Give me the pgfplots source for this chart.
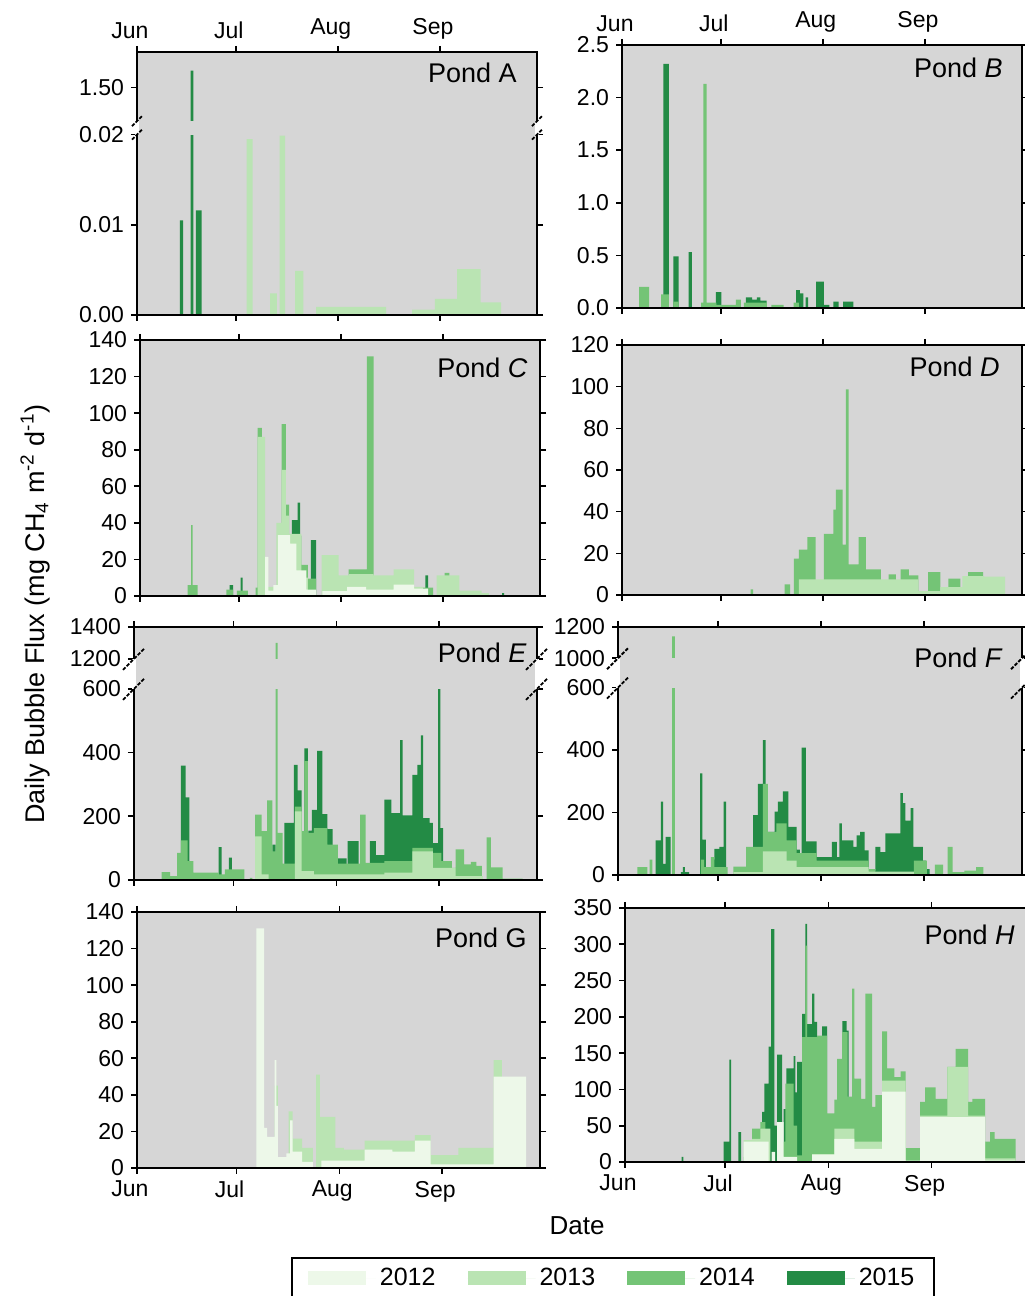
\documentclass[border=0pt]{standalone}
\usepackage{pgfplots}
\pgfplotsset{compat=1.18}
\usepackage{fontspec}
\setmainfont{Liberation Sans}

\definecolor{c2012}{HTML}{EDF8E9}
\definecolor{c2013}{HTML}{BAE4B3}
\definecolor{c2014}{HTML}{74C476}
\definecolor{c2015}{HTML}{238B45}
\definecolor{panelbg}{HTML}{D6D6D6}

\pgfplotsset{
  pond/.style={
    scale only axis,
    anchor=south west,
    xmin=0, xmax=121.5,
    ymin=0,
    axis background/.style={fill=panelbg},
    axis line style={line width=1pt},
    tick align=outside,
    xtick pos=both, ytick pos=both,
    yticklabel pos=left,
    xtick={0,30,61,92},
    xticklabels={Jun,Jul,Aug,Sep},
    xticklabel style={xshift=-3.5pt},
    major tick length=3pt,
    every tick/.style={black, line width=0.8pt},
    tick label style={font=\fontsize{11.5}{13}\selectfont},
    /pgf/number format/assume math mode=true,
    axis on top,
  },
  nox/.style={xticklabels={}},
  yr/.style={const plot, draw=none, fill=#1, forget plot},
}
\tikzset{
  brk/.style={black, line width=0.9pt, dash pattern=on 1.8pt off 0.8pt},
  pondlbl/.style={anchor=north east, inner sep=0pt, font=\fontsize{13.5}{15}\selectfont},
}
% axis break: the spine is cut between two levels and a slash marks each cut
\newcommand{\axbreak}[4]{%
  \fill[white] ([xshift=-1.2pt]#1) rectangle ([xshift=1.2pt]#2);
  \draw[brk] ([shift={(-#3,-#4)}]#1) -- ([shift={(#3,#4)}]#1);
  \draw[brk] ([shift={(-#3,-#4)}]#2) -- ([shift={(#3,#4)}]#2);}

\begin{document}
\begin{tikzpicture}
\useasboundingbox (0,0) rectangle (512pt,648pt);

% ---------------- Pond A ----------------
\begin{axis}[pond, at={(68.5pt,490.5pt)}, width=200pt, height=131.5pt,
  xticklabel pos=right,
  ymax=1.605, ytick={0,0.01,0.02,1.5}, yticklabels={0.00,0.01,0.02,1.50},
  y coord trafo/.code={\pgfmathparse{(#1<=0.02)?(1000*#1):((#1<1.4)?(20+(#1-0.02)*1.087):(21.5+(#1-1.4)*37.4))}}]
\addplot[yr=c2015] table {
x y
13.0 0.0105
14.0 0
16.3 1.55
17.1 0
17.9 0.0116
19.6 0
} \closedcycle;
\addplot[yr=c2013] table {
x y
33.3 0.0195
35.1 0
40.4 0.0024
42.5 0
43.3 0.0199
45.0 0
48.0 0.0049
50.5 0
54.4 0.0009
75.7 0
83.6 0.0006
90.5 0.0018
97.2 0.0051
104.4 0.0014
110.6 0
} \closedcycle;
\fill[panelbg] (axis cs:0,0.02) rectangle (axis cs:121.5,1.4);
\coordinate (AL0) at (axis cs:0,0.02);
\coordinate (AL1) at (axis cs:0,1.4);
\coordinate (AR0) at (axis cs:121.5,0.02);
\coordinate (AR1) at (axis cs:121.5,1.4);
\node[pondlbl, xshift=-10pt, yshift=-5.5pt] at (rel axis cs:1,1) {Pond A};
\end{axis}
\axbreak{AL0}{AL1}{2.5pt}{2.5pt}
\axbreak{AR0}{AR1}{2.5pt}{2.5pt}

% ---------------- Pond B ----------------
\begin{axis}[pond, at={(311pt,494pt)}, width=200pt, height=131.5pt,
  xticklabel pos=right,
  ymax=2.5, ytick={0,0.5,1,1.5,2,2.5}, yticklabels={0.0,0.5,1.0,1.5,2.0,2.5}]
\addplot[yr=c2015] table {
x y
12.6 2.32
14.2 0
15.6 0.49
17.2 0
20.2 0.53
21.2 0
28.5 0.15
30.2 0
37.6 0.10
39.5 0.08
41.0 0.10
42.0 0.07
43.9 0
52.9 0.17
54.0 0.14
55.1 0
55.8 0.10
56.5 0
59.0 0.25
61.3 0.03
63.0 0
64.2 0.06
65.8 0
67.2 0.06
70.3 0
} \closedcycle;
\addplot[yr=c2014] table {
x y
5.2 0.20
8.2 0
11.9 0.13
14.2 0
15.6 0.06
17.2 0
24.0 0.05
24.7 2.13
25.7 0.05
28.7 0.03
34.6 0.08
36.1 0
37.0 0.05
44.0 0
45.4 0.03
49.1 0
52.1 0.05
53.7 0
} \closedcycle;
\node[pondlbl, xshift=-9.5pt, yshift=-6.5pt] at (rel axis cs:1,1) {Pond \textit{B}};
\end{axis}

% ---------------- Pond C ----------------
\begin{axis}[pond, nox, at={(70pt,350pt)}, width=200pt, height=128pt,
  ymax=140, ytick={0,20,...,140}]
\addplot[yr=c2015] table {
x y
27.2 6
28.3 0
30.6 10
31.2 0
46.1 41.5
47.9 51
48.6 0
51.9 30.6
53.5 0
86.7 11.3
87.5 0
110.0 1.6
110.6 0
} \closedcycle;
\addplot[yr=c2014] table {
x y
14.5 5.9
15.5 38.8
16.0 5.9
17.5 0
26.2 3.5
28.3 0
29.4 3
32.8 0
35.1 4.6
35.7 92
37.0 0
43.0 94
44.3 50
45.3 0
47.5 33
49.0 17
51.0 9.5
53.5 0
63.4 14.5
68.9 131
71.0 0
83.3 4.6
89.0 0
92.5 12.6
94.0 0
} \closedcycle;
\addplot[yr=c2013] table {
x y
35.7 87
38.0 5
41.4 40
43.0 69
44.3 44
45.3 34
49.0 10
51.0 0
55.2 22.3
60.3 11.3
63.4 12
71.0 11.3
77.0 14.5
83.3 5
86.0 0
90.1 11.3
97.0 3
103.8 1.6
106.0 0
} \closedcycle;
\addplot[yr=c2012] table {
x y
38.0 21.4
39.0 3
40.5 6
41.9 33.3
45.6 28.7
47.5 14
50.5 3.5
53.5 0
55.4 2.7
62.9 5
68.7 3.5
77.0 6.2
83.3 4
87.5 0
} \closedcycle;
\node[pondlbl, xshift=-6pt, yshift=-9pt] at (rel axis cs:1,1) {Pond \textit{C}};
\end{axis}

% ---------------- Pond D ----------------
\begin{axis}[pond, nox, at={(311pt,350.5pt)}, width=200pt, height=125pt,
  ymax=120, ytick={0,20,...,120}]
\addplot[yr=c2014] table {
x y
39.1 2.7
39.8 0
49.4 5.1
51.1 0
52.2 17.4
53.7 21.8
56.3 27.8
58.8 0
61.3 29.3
64.2 41
65.0 50.6
67.0 24.2
68.0 98.7
68.8 14.7
71.9 27.8
74.1 12.3
78.6 0
81.0 9.9
83.2 0
84.6 12.3
87.1 9.4
90.0 1.9
93.0 11
96.7 0
99.1 7.8
102.8 0
105.1 11
109.7 0
} \closedcycle;
\addplot[yr=c2013] table {
x y
53.7 7.5
90.0 1.9
96.7 3.8
103.4 9
110.0 8.8
116.4 0
} \closedcycle;
\node[pondlbl, xshift=-11pt, yshift=-6pt] at (rel axis cs:1,1) {Pond \textit{D}};
\end{axis}

% ---------------- Pond E ----------------
\begin{axis}[pond, nox, at={(67pt,208pt)}, width=201.5pt, height=126.5pt,
  ymax=1400, ytick={0,200,400,600,1200,1400}, yticklabels={0,200,400,600,1200,1400},
  y coord trafo/.code={\pgfmathparse{(#1<=600)?(#1):((#1<1200)?(600+(#1-600)*0.15667):(694+(#1-1200)*0.5))}}]
\addplot[yr=c2015] table {
x y
14.1 359
15.6 259
16.7 59
17.7 0
25.5 103
26.4 0
28.6 70
29.5 0
41.7 111
42.7 0
45.3 179
48.2 361
49.3 281
50.5 0
51.4 413
52.4 0
52.6 155
53.6 220
55.2 405
56.8 207
58.3 160
59.9 0
61.5 68
64.1 0
64.4 122
67.7 0
71.1 122
72.9 78
75.5 252
77.6 210
80.2 439
81.0 203
83.9 330
85.4 361
86.5 454
87.2 194
89.1 179
90.1 116
91.7 602
92.4 163
93.2 0
} \closedcycle;
\addplot[yr=c2014] table {
x y
8.3 25
10.9 12
13.0 85
14.1 124
16.2 59
17.9 23
25.5 18
27.4 33
33.3 0
34.9 7
35.7 0
36.5 205
38.5 153
40.1 250
41.7 90
42.7 1300
43.3 148
44.8 51
48.5 230
50.5 153
51.4 373
52.4 148
54.2 163
58.3 111
61.5 51
68.2 205
69.8 54
75.5 59
83.9 101
90.1 85
92.7 59
95.8 38
97.0 96
99.5 49
101.6 57
103.2 44
104.9 0
106.3 134
107.6 40
111.1 4
117.2 0
} \closedcycle;
\addplot[yr=c2013] table {
x y
36.5 137
38.5 18
40.6 0
48.5 215
50.5 28
54.2 18
75.5 23
83.9 90
90.1 38
97.0 12
105.2 0
} \closedcycle;
\fill[panelbg] (axis cs:0,600) rectangle (axis cs:121.5,1200);
\coordinate (EL0) at (axis cs:0,600);
\coordinate (EL1) at (axis cs:0,1200);
\coordinate (ER0) at (axis cs:121.5,600);
\coordinate (ER1) at (axis cs:121.5,1200);
\node[pondlbl, xshift=-5pt, yshift=-8pt] at (rel axis cs:1,1) {Pond \textit{E}};
\end{axis}
\axbreak{EL0}{EL1}{5.5pt}{5.5pt}
\axbreak{ER0}{ER1}{5.5pt}{5.5pt}

% ---------------- Pond F ----------------
\begin{axis}[pond, nox, at={(309pt,210.5pt)}, width=202pt, height=124pt,
  ymax=1200, ytick={0,200,400,600,1000,1200}, yticklabels={0,200,400,600,1000,1200},
  y coord trafo/.code={\pgfmathparse{(#1<=600)?(#1):((#1<1000)?(600+(#1-600)*0.235):(694+(#1-1000)*0.5))}}]
\addplot[yr=c2015] table {
x y
11.3 111
12.9 235
13.6 36
14.3 122
15.8 0
18.9 9
19.5 25
20.1 9
21.4 0
24.7 325
25.4 113
26.4 0
28.0 49
29.0 84
30.5 90
31.8 235
32.5 0
40.6 192
42.1 292
43.6 432
44.4 208
45.1 138
47.1 203
48.1 235
49.6 268
51.2 154
53.7 81
54.7 0
55.2 408
56.5 108
59.7 57
64.3 106
65.8 57
66.6 165
67.3 111
70.8 90
71.8 127
72.8 138
74.2 79
75.4 14
77.4 90
78.9 73
80.4 133
84.9 262
85.7 230
86.4 174
88.0 214
88.8 90
91.7 46
92.7 19
93.7 0
} \closedcycle;
\addplot[yr=c2014] table {
x y
5.8 25
8.8 0
9.5 49
10.3 0
16.3 1140
17.1 0
24.9 49
25.9 25
27.9 57
29.0 25
33.0 0
34.7 27
38.5 90
43.6 292
45.1 138
47.6 165
50.7 111
53.7 70
59.7 46
75.4 19
77.4 0
89.0 46
92.9 0
95.3 33
97.8 0
99.1 90
100.6 9
104.2 14
107.7 25
109.9 0
} \closedcycle;
\addplot[yr=c2013] table {
x y
34.7 9
43.6 76
50.7 46
53.7 25
75.4 11
89.0 0
} \closedcycle;
\fill[panelbg] (axis cs:0,600) rectangle (axis cs:121.5,1000);
\coordinate (FL0) at (axis cs:0,600);
\coordinate (FL1) at (axis cs:0,1000);
\coordinate (FR0) at (axis cs:121.5,600);
\coordinate (FR1) at (axis cs:121.5,1000);
\node[pondlbl, xshift=-9.5pt, yshift=-10.5pt] at (rel axis cs:1,1) {Pond \textit{F}};
\end{axis}
\axbreak{FL0}{FL1}{5.5pt}{5.5pt}
\axbreak{FR0}{FR1}{5.5pt}{5.5pt}

% ---------------- Pond G ----------------
\begin{axis}[pond, at={(68.5pt,64pt)}, width=201.5pt, height=128pt,
  ymax=140, ytick={0,20,...,140},
  legend style={at={(axis description cs:0.382,-0.348)}, anchor=north west,
    legend columns=4, draw=black, line width=1pt, fill=white,
    font=\fontsize{12.5}{14}\selectfont, inner xsep=8pt, inner ysep=3pt,
    /tikz/every even column/.append style={column sep=14pt}},
  legend image code/.code={\fill[#1] (0pt,-3.5pt) rectangle (29pt,3.5pt); \path (0pt,0pt) -- (34pt,0pt);}]
\addplot[yr=c2013] table {
x y
41.5 45
42.5 0
45.7 31
46.9 16
49.8 11
53.0 0
54.0 51
55.1 28
59.8 11
62.4 10
68.6 15
83.8 18
88.5 7
96.9 11
107.5 59
110.0 0
} \closedcycle;
\addplot[yr=c2012] table {
x y
36.0 131
38.3 22
39.2 17
41.5 59
42.0 34
42.5 6
45.0 8
46.2 26
46.9 9
49.8 3.3
53.0 0
55.6 4
68.6 10
77.0 9
83.8 15
88.5 2
107.5 50
117.3 0
} \closedcycle;
\node[pondlbl, xshift=-6.5pt, yshift=-8pt] at (rel axis cs:1,1) {Pond G};
\addlegendimage{fill=c2012, draw=none}
\addlegendentry{2012}
\addlegendimage{fill=c2013, draw=none}
\addlegendentry{2013}
\addlegendimage{fill=c2014, draw=none}
\addlegendentry{2014}
\addlegendimage{fill=c2015, draw=none}
\addlegendentry{2015}
\end{axis}

% ---------------- Pond H ----------------
\begin{axis}[pond, at={(312.5pt,67pt)}, width=202.5pt, height=127pt,
  ymax=350, ytick={0,50,...,350}]
\addplot[yr=c2015] table {
x y
17.0 7
17.5 0
29.6 28
31.3 141
31.8 0
34.0 41
34.8 0
41.1 69
41.8 108
43.1 159
43.8 321
44.8 50
45.6 148
47.1 0
47.6 73
48.4 129
50.6 146
51.1 96
51.6 138
53.1 204
54.1 328
54.6 190
56.1 232
56.8 193
57.6 0
59.1 187
60.6 0
65.2 194
66.5 181
67.1 0
} \closedcycle;
\addplot[yr=c2014] table {
x y
35.6 7
37.6 0
38.1 46
40.6 55
42.1 0
45.6 53
47.1 28
48.1 108
50.6 50
51.6 9
53.1 172
54.1 298
54.6 172
57.6 174
60.6 67
62.8 86
63.6 142
65.1 179
66.8 90
68.1 239
68.8 115
70.8 87
72.1 232
74.1 76
75.1 92
77.1 180
78.6 129
80.8 117
82.7 125
84.2 19
88.5 83
90.0 103
93.2 87
96.7 131
99.2 156
102.9 83
104.2 87
108.0 28
109.5 41
110.9 32
117.2 0
} \closedcycle;
\addplot[yr=c2013] table {
x y
35.6 30
38.1 32
40.6 46
43.6 0
56.1 11
62.8 46
68.8 28
77.1 112
84.2 0
88.5 64
96.7 131
102.9 64
108.0 5
117.2 0
} \closedcycle;
\addplot[yr=c2012] table {
x y
35.6 28
43.1 0
44.0 14
45.0 0
45.6 55
47.6 7
51.6 0
56.1 10
62.8 32
68.8 18
77.1 97
84.2 2
88.5 62
108.0 2
117.2 0
} \closedcycle;
\node[pondlbl, xshift=-7.5pt, yshift=-8.5pt] at (rel axis cs:1,1) {Pond \textit{H}};
\end{axis}

% shared axis titles
\node[rotate=90, font=\fontsize{13.5}{15}\selectfont] at (17.5pt,341pt)
  {Daily Bubble Flux (mg CH\textsubscript{4} m\textsuperscript{-2} d\textsuperscript{-1})};
\node[font=\fontsize{13}{15}\selectfont] at (288.5pt,35pt) {Date};
\end{tikzpicture}
\end{document}
